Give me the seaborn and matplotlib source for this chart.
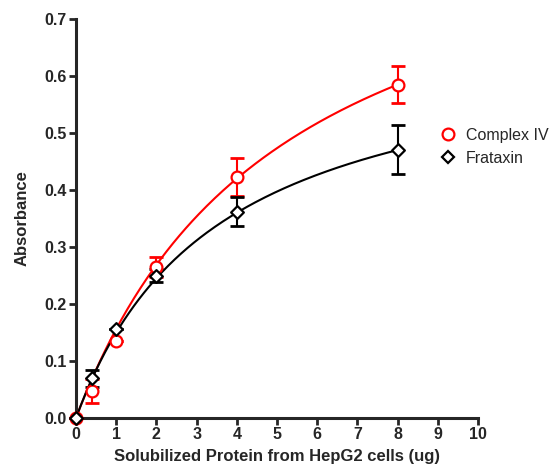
import numpy as np
import pandas as pd
import matplotlib
matplotlib.use('Agg')
import matplotlib.pyplot as plt
import seaborn as sns
from matplotlib.lines import Line2D

# data
protein_ug = [0, 0.4, 1, 2, 4, 8]
complex_iv = [0.0, 0.048, 0.135, 0.265, 0.423, 0.585]
complex_iv_err = [0.0, 0.021, 0.0, 0.017, 0.033, 0.033]
frataxin = [0.0, 0.070, 0.157, 0.250, 0.362, 0.471]
frataxin_err = [0.0, 0.015, 0.0, 0.012, 0.025, 0.043]

# one-site binding fit parameters (Bmax, Kd) estimated from the curves
fit_complex_iv = (0.963, 5.17)
fit_frataxin = (0.677, 3.52)

sns.set_style('ticks')
plt.rcParams['font.family'] = ['Liberation Sans', 'DejaVu Sans']

fig = plt.figure(figsize=(5.52, 4.66), dpi=100)
ax = fig.add_axes([76 / 552, 48 / 466, 402 / 552, 399 / 466])

xs = np.linspace(0, 8, 200)
series = [
    ('Complex IV', complex_iv, complex_iv_err, fit_complex_iv, 'red', 'o', 8.5),
    ('Frataxin', frataxin, frataxin_err, fit_frataxin, 'black', 'D', 6.5),
]

for name, ys, err, (bmax, kd), color, marker, ms in series:
    curve = pd.DataFrame({'x': xs, 'y': bmax * xs / (kd + xs)})
    sns.lineplot(data=curve, x='x', y='y', color=color, lw=1.5, ax=ax, zorder=3)
    ax.errorbar(protein_ug, ys, yerr=err, fmt='none', ecolor=color,
                elinewidth=1.5, capsize=5, capthick=2, zorder=4, clip_on=False)
    pts = pd.DataFrame({'x': protein_ug, 'y': ys})
    sns.scatterplot(data=pts, x='x', y='y', marker=marker, s=ms ** 2,
                    facecolor='white', edgecolor=color, linewidth=1.6,
                    ax=ax, zorder=5, clip_on=False)

ax.set_xlim(0, 10)
ax.set_ylim(0, 0.7)
ax.set_xticks(range(0, 11))
ax.set_yticks(np.arange(0, 0.71, 0.1))
ax.set_yticklabels([f'{v:.1f}' for v in np.arange(0, 0.71, 0.1)])
sns.despine(ax=ax)
for s in ['left', 'bottom']:
    ax.spines[s].set_linewidth(2.2)
ax.tick_params(width=2, length=5, labelsize=11.5, pad=1.5)
for lab in ax.get_xticklabels() + ax.get_yticklabels():
    lab.set_fontweight('bold')

ax.set_xlabel('Solubilized Protein from HepG2 cells (ug)', fontsize=12,
              fontweight='bold', labelpad=5)
ax.set_ylabel('Absorbance', fontsize=12, fontweight='bold', labelpad=11)

handles = [
    Line2D([], [], ls='none', marker='o', ms=8.5, mfc='white', mec='red', mew=1.6),
    Line2D([], [], ls='none', marker='D', ms=6.5, mfc='white', mec='black', mew=1.6),
]
ax.legend(handles, ['Complex IV', 'Frataxin'], loc='center left',
          bbox_to_anchor=(432 / 552, 0.685), bbox_transform=fig.transFigure,
          frameon=False, fontsize=11.5, handletextpad=0.5, borderaxespad=0,
          labelspacing=0.5, handlelength=1.2)

fig.savefig('out.png', dpi=100)
